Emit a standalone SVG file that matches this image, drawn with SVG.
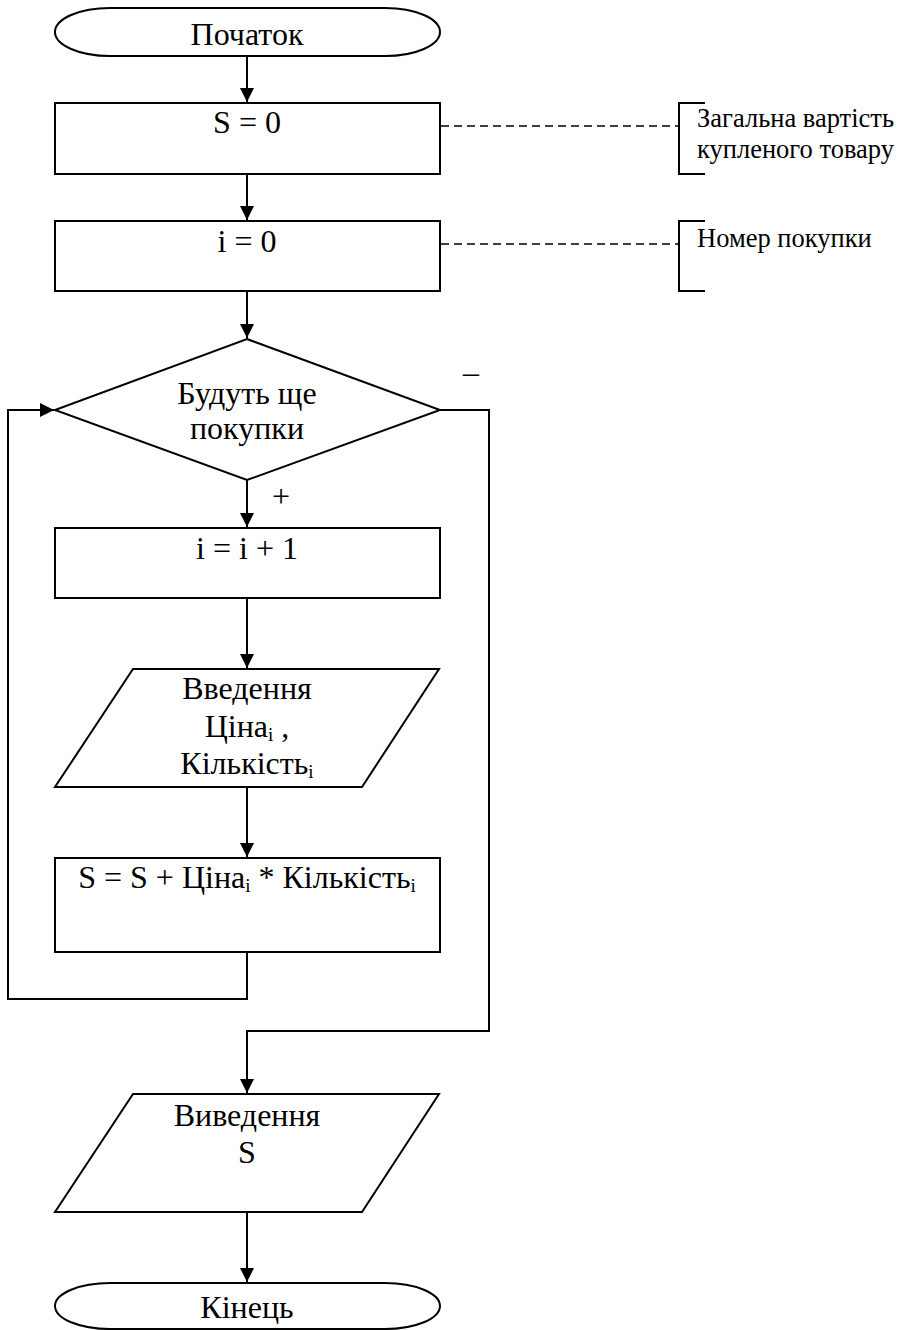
<svg xmlns="http://www.w3.org/2000/svg" width="911" height="1330" viewBox="0 0 911 1330">
<style>
.s{fill:#fff;stroke:#000;stroke-width:2}
.c{fill:none;stroke:#000;stroke-width:2}
.d{fill:none;stroke:#000;stroke-width:1.6;stroke-dasharray:8 5}
text{font-family:'Liberation Serif','Times New Roman',serif;fill:#000}
.t{font-size:32px;text-anchor:middle}
.n{font-size:26.5px}
.sub{font-size:19px}
</style>
<defs>
<marker id="ar" markerWidth="14" markerHeight="14" refX="14" refY="7" orient="auto" markerUnits="userSpaceOnUse">
<path d="M0,0 L14,7 L0,14 Z" fill="#000"/>
</marker>
</defs>
<g id="connectors">
<path class="c" d="M247,56 V102" marker-end="url(#ar)"/>
<path class="c" d="M247,174 V220" marker-end="url(#ar)"/>
<path class="c" d="M247,291 V338" marker-end="url(#ar)"/>
<path class="c" d="M247,480 V527" marker-end="url(#ar)"/>
<path class="c" d="M247,598 V668" marker-end="url(#ar)"/>
<path class="c" d="M247,787 V857" marker-end="url(#ar)"/>
<path class="c" d="M247,952 V999 H8 V410 H54" marker-end="url(#ar)"/>
<path class="c" d="M440,410 H489 V1031 H247 V1093" marker-end="url(#ar)"/>
<path class="c" d="M247,1212 V1282" marker-end="url(#ar)"/>
<path class="d" d="M441,126 H679"/>
<path class="d" d="M441,244 H679"/>
<text class="t" x="471" y="383">–</text>
<text class="t" x="281" y="507">+</text>
</g>
<g id="start">
<rect class="s" x="55" y="8" width="385" height="48" rx="55" ry="24"/>
<text class="t" x="247" y="45">Початок</text>
</g>
<g id="s0">
<rect class="s" x="55" y="103" width="385" height="71"/>
<text class="t" x="247" y="133">S = 0</text>
</g>
<g id="i0">
<rect class="s" x="55" y="221" width="385" height="70"/>
<text class="t" x="247" y="252">i = 0</text>
</g>
<g id="comment1">
<path class="c" d="M705,103 H679 V174 H705"/>
<text class="n" x="697" y="127">Загальна вартість</text>
<text class="n" x="697" y="158">купленого товару</text>
</g>
<g id="comment2">
<path class="c" d="M705,221 H679 V291 H705"/>
<text class="n" x="697" y="247">Номер покупки</text>
</g>
<g id="decision">
<polygon class="s" points="247,339 440,410 247,480 55,410"/>
<text class="t" x="247" y="404">Будуть ще</text>
<text class="t" x="247" y="439">покупки</text>
</g>
<g id="inc">
<rect class="s" x="55" y="528" width="385" height="70"/>
<text class="t" x="247" y="559">i = i + 1</text>
</g>
<g id="input">
<polygon class="s" points="133,669 439,669 362,787 55,787"/>
<text class="t" x="247" y="699">Введення</text>
<text class="t" x="247" y="737">Ціна<tspan class="sub" dy="4">i</tspan><tspan dy="-4"> ,</tspan></text>
<text class="t" x="247" y="774">Кількість<tspan class="sub" dy="4">i</tspan></text>
</g>
<g id="sum">
<rect class="s" x="55" y="858" width="385" height="94"/>
<text class="t" x="247" y="888">S = S + Ціна<tspan class="sub" dy="4">i</tspan><tspan dy="-4"> * Кількість</tspan><tspan class="sub" dy="4">i</tspan></text>
</g>
<g id="output">
<polygon class="s" points="133,1094 439,1094 362,1212 55,1212"/>
<text class="t" x="247" y="1126">Виведення</text>
<text class="t" x="247" y="1163">S</text>
</g>
<g id="end">
<rect class="s" x="55" y="1283" width="385" height="46" rx="55" ry="23"/>
<text class="t" x="247" y="1318">Кінець</text>
</g>
</svg>
